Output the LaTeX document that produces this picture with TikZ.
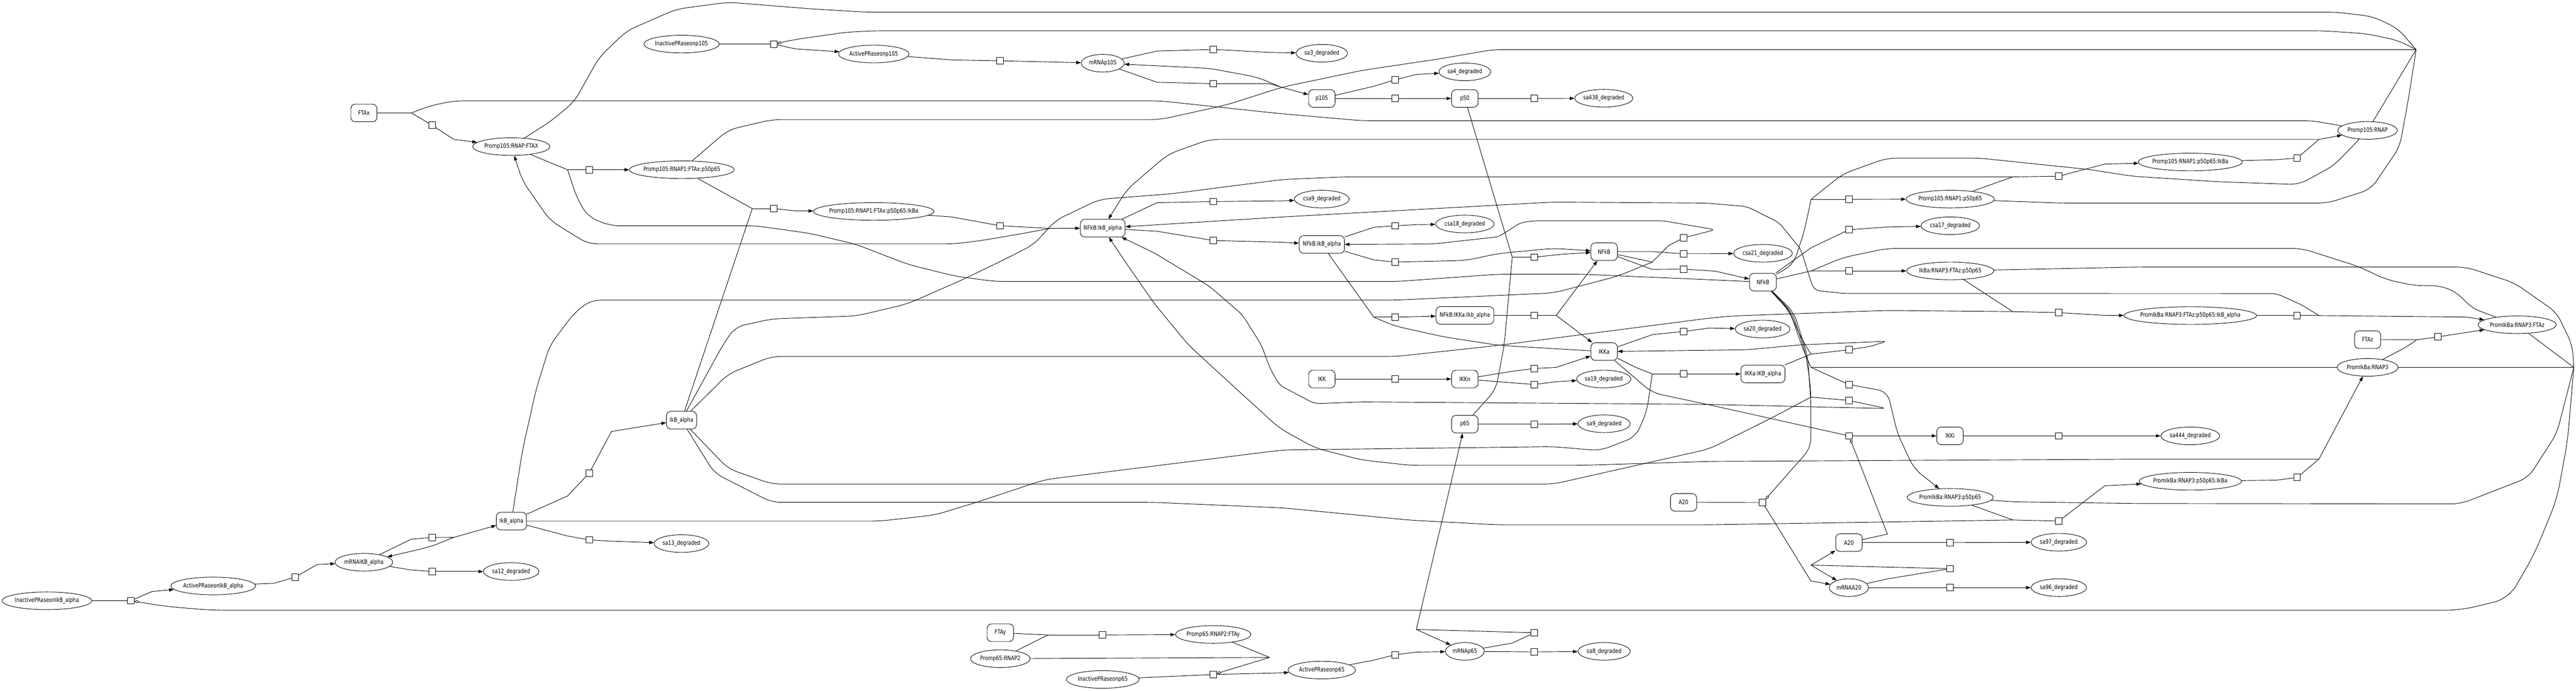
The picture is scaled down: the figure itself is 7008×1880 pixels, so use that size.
\documentclass[tikz,border=0pt]{standalone}
\usepackage{fontspec}
\setmainfont{DejaVu Sans}[FakeStretch=0.81]
\usetikzlibrary{arrows.meta,shapes.geometric}
\newcommand{\ztx}[1]{\makebox[0pt]{#1}}
\tikzset{
 ln/.style={line width=1.3pt},
 ar/.style={line width=1.3pt,-{Triangle[length=13pt,width=9pt]}},
 md/.style={line width=1.3pt,-{Diamond[open,length=13pt,width=8pt]}},
 el/.style={ellipse,draw,line width=1.3pt,minimum height=48pt,inner sep=0pt,minimum width=#1,fill=white},
 bx/.style={rectangle,rounded corners=12pt,draw,line width=1.3pt,minimum height=48pt,minimum width=#1,inner sep=0pt,fill=white},
 rx/.style={rectangle,draw,line width=1.3pt,minimum size=18pt,inner sep=0pt,fill=white},
 cv/.style={rounded corners=25pt},
}
\begin{document}
\begin{tikzpicture}[x=1pt,y=-1pt,font=\fontsize{16.5}{19}\selectfont]
\useasboundingbox[fill=white] (0,0) rectangle (7008,1880);
% ---------------- species ----------------
\node[bx=71] (FTAx) at (990,307.5) {FTAx};
\node[el=210] (P105RF) at (1391,399) {\ztx{Promp105:RNAP:FTAX}};
\node[el=205] (InPp105) at (1854,120) {\ztx{InactivePRaseonp105}};
\node[el=192] (AcPp105) at (2377,147) {\ztx{ActivePRaseonp105}};
\node[el=117] (mRNAp105) at (3000,172) {\ztx{mRNAp105}};
\node[el=140] (sa3) at (3596,145) {\ztx{sa3\_degraded}};
\node[el=141] (sa4) at (3985,195.5) {\ztx{sa4\_degraded}};
\node[bx=72] (p105) at (3596,268) {p105};
\node[bx=72] (p50) at (3985,268) {p50};
\node[el=158] (sa438) at (4363,267.4) {\ztx{sa438\_degraded}};
\node[el=285] (P105RFpp) at (1855,462) {\ztx{Promp105:RNAP1:FTAx:p50p65}};
\node[el=328] (P105RFppI) at (2377,575.5) {\ztx{Promp105:RNAP1:FTAx:p50p65:IkBa}};
\node[bx=122] (NIa1) at (3000,621) {NFkB:IkB\_alpha};
\node[el=149] (csa9) at (3596,542) {\ztx{csa9\_degraded}};
\node[el=159] (csa18) at (3985,609.7) {\ztx{csa18\_degraded}};
\node[bx=123] (NIa2) at (3596,665.5) {NFkB:IkB\_alpha};
\node[bx=72] (NFkB1) at (4364,685) {NFkB};
\node[bx=157] (NIkIa) at (3985,858.5) {NFkB:IKKa:Ikb\_alpha};
\node[bx=72] (IKKa) at (4364,957) {IKKa};
\node[bx=72] (IKK) at (3596,1031.7) {IKK};
\node[bx=72] (IKKn) at (3985,1031.7) {IKKn};
\node[el=148] (sa19) at (4363,1031.7) {\ztx{sa19\_degraded}};
\node[bx=72] (p65) at (3985,1154.6) {p65};
\node[el=142] (sa9) at (4364,1153.4) {\ztx{sa9\_degraded}};
\node[bx=71] (A20a) at (4580,1367.5) {A20};
\node[el=106] (mRNAp65) at (3985,1773) {\ztx{mRNAp65}};
\node[el=142] (sa8) at (4364,1773) {\ztx{sa8\_degraded}};
\node[el=184] (AcPp65) at (3596,1824) {\ztx{ActivePRaseonp65}};
\node[bx=72] (FTAy) at (2721.4,1722.4) {FTAy};
\node[el=162] (P65R) at (2721.4,1793) {\ztx{Promp65:RNAP2}};
\node[el=205] (P65RF) at (3300.5,1727) {\ztx{Promp65:RNAP2:FTAy}};
\node[el=198] (InPp65) at (3000,1849.5) {\ztx{InactivePRaseonp65}};
\node[el=160] (csa21) at (4796,689.5) {\ztx{csa21\_degraded}};
\node[bx=73] (NFkB2) at (4796,768) {NFkB};
\node[el=240] (P105Rpp) at (5305.6,542) {\ztx{Promp105:RNAP1:p50p65}};
\node[el=159] (csa17) at (5305.6,614.5) {\ztx{csa17\_degraded}};
\node[el=237] (IRFpp) at (5305.6,737.4) {\ztx{IkBa:RNAP3:FTAz:p50p65}};
\node[el=149] (sa20) at (4795,895.7) {\ztx{sa20\_degraded}};
\node[bx=120] (IKKaI) at (4796,1018) {IKKa:IKB\_alpha};
\node[bx=72] (IKKi) at (5305,1186.4) {IKKi};
\node[el=234] (PIRpp) at (5305.6,1354) {\ztx{PromIkBa:RNAP3:p50p65}};
\node[bx=72] (A20b) at (5030,1477) {A20};
\node[el=151] (sa97) at (5601,1476) {\ztx{sa97\_degraded}};
\node[el=107] (mRNAA20) at (5030,1599.5) {\ztx{mRNAA20}};
\node[el=151] (sa96) at (5601,1599.5) {\ztx{sa96\_degraded}};
\node[el=162] (P105R) at (6441,355) {\ztx{Promp105:RNAP}};
\node[el=283] (P105RppI) at (5958.7,441) {\ztx{Promp105:RNAP1:p50p65:IkBa}};
\node[el=361] (PIRFppI) at (5958.7,859) {\ztx{PromIkBa:RNAP3:FTAz:p50p65:IkB\_alpha}};
\node[el=213] (PIRF) at (6847.8,884) {\ztx{PromIkBa:RNAP3:FTAz}};
\node[bx=71] (FTAz) at (6441,924.5) {FTAz};
\node[el=166] (PIR) at (6441,1000) {\ztx{PromIkBa:RNAP3}};
\node[el=160] (sa444) at (5958.7,1186.4) {\ztx{sa444\_degraded}};
\node[el=278] (PIRppI) at (5958.7,1310) {\ztx{PromIkBa:RNAP3:p50p65:IkBa}};
\node[el=157] (mRNAIkB) at (990,1530.5) {\ztx{mRNAIKB\_alpha}};
\node[el=244] (InPIkB) at (127.6,1635.4) {\ztx{InactivePRaseonIkB\_alpha}};
\node[el=231] (AcPIkB) at (580,1595) {\ztx{ActivePRaseonIkB\_alpha}};
\node[bx=82] (IkBl) at (1391.3,1418.4) {IkB\_alpha};
\node[bx=82] (IkBu) at (1854,1143.8) {IkB\_alpha};
\node[el=151] (sa12) at (1390.6,1555.7) {\ztx{sa12\_degraded}};
\node[el=149] (sa13) at (1854,1479.6) {\ztx{sa13\_degraded}};
% ---------------- reactions ----------------
\foreach \n/\x/\y in {r1/1176/341,r2/1603/462,r3/2105/567.7,r4/2720.7/614.5,r5/2105/120,r6/2720.7/165.5,
 r7/3301/134.5,r8/3301/227.8,r9/3795.6/217,r10/3795.6/268,r11/4174/268,r12/4174/700,r13/3301/548.6,
 r14/3301/654.7,r15/3795.6/614.5,r16/3795.6/713.4,r17/3795.6/863.3,r18/4174/858.5,r19/4580/690.6,
 r20/4580/732.6,r21/4580/647.5,r22/4580/902.3,r23/3795.6/1031.7,r24/4174/1003,r25/4174/1046.7,
 r26/4174/1154.6,r27/4580/1018,r28/5030/1186.4,r29/5601/1186.4,r30/5030/952,r31/5030/1046.7,
 r32/5030/1090,r33/4795/1368,r34/5305/1548,r35/5305/1477,r36/5305/1599.5,r37/5601/1418.4,
 r38/6249/1299.7,r39/356/1635,r40/803.6/1570.7,r41/1176/1463,r42/1176/1555.7,r43/1603/1469.4,
 r44/1603/1287.7,r45/5601/479.6,r46/6249/430.5,r47/5030/542.6,r48/5030/625.3,r49/5030/737.4,
 r50/5601/851,r51/6249/859,r52/6632/917,r53/2999/1728.4,r54/3301/1836,r55/3795.6/1782.3,
 r56/4174/1722.4,r57/4174/1774.5}
 {\node[rx] (\n) at (\x,\y) {};}
% ---------------- junctions ----------------
\coordinate (j1) at (1119,307.5);
\coordinate (j2) at (6308.5,379.5);
\coordinate (j3) at (1544,462);
\coordinate (j4) at (2857,621.7);
\coordinate (j5) at (2046.5,567.7);
\coordinate (j6) at (3482,236);
\coordinate (j7) at (5475.7,481.4);
\coordinate (j8) at (6308.5,859);
\coordinate (j10) at (4926.5,1081);
\coordinate (j11) at (4114,700);
\coordinate (j13) at (4495,713.4);
\coordinate (j14) at (3737.4,863.3);
\coordinate (j15) at (5475.7,848.3);
\coordinate (j16) at (4926.5,1000);
\coordinate (j17) at (4233.6,858.5);
\coordinate (j18) at (4926.5,964);
\coordinate (j19) at (4495,1018);
\coordinate (j20) at (6308.5,1250);
\coordinate (j21) at (5476,1415.4);
\coordinate (j22) at (4927,542.6);
\coordinate (j23) at (4927,674.5);
\coordinate (j24) at (4927,737.4);
\coordinate (j25) at (6574,925);
\coordinate (j26) at (4926.5,1538.3);
\coordinate (j27) at (3853,1713.4);
\coordinate (j28) at (2851,1728.4);
\coordinate (j29) at (1234.6,1462.8);
\coordinate (jtop) at (6573,135);
\coordinate (jikba) at (7002,1000);
\coordinate (jp65) at (3454,1789.5);
% ---------------- edges ----------------
\draw[ln] (FTAx) -- (j1);
\draw[ln,cv] (P105R) -- (6290,328.5) -- (3704,328.5) -- (3480,309) -- (3156,274.6) -- (1235,274.6) -- (1170,288) -- (j1);
\draw[ln] (j1) -- (r1);
\draw[ar] (r1) -- (1234.6,379.5) -- (P105RF);
\draw[ln] (P105RF) -- (j3);
\draw[ln] (j3) -- (r2);
\draw[ar] (r2) -- (P105RFpp);
\draw[ln,cv] (NFkB2) -- (4650,761.4) -- (4301,746.4) -- (4077,746.4) -- (3801,766.2) -- (2708,766.2) -- (2600,752) -- (2469,719.4) -- (2330,665.5) -- (2204.6,635.5) -- (2055,614.5) -- (1660,614.5) -- (1600,590) -- (1570,540) -- (j3);
\draw[ln] (P105RFpp) -- (j5);
\draw[ln] (IkBu) -- (j5);
\draw[ln] (j5) -- (r3);
\draw[ar] (r3) -- (2163.6,574) -- (P105RFppI);
\draw[ln] (P105RFppI) -- (2589,590.5) -- (r4);
\draw[ln] (r4) -- (j4);
\draw[ar] (j4) -- (NIa1);
\draw[ar,cv] (j4) -- (2782.6,635.5) -- (2678,653.5) -- (2596,664) -- (1600,664) -- (1496,599.5) -- (1421,491.6) -- (P105RF);
\draw[ln,cv] (P105RF) -- (1503,326.7) -- (1563,275.8) -- (1630,156) -- (1705,84) -- (1840,25) -- (1981,6) -- (2205,24) -- (2355,33) -- (6355,33) -- (6455,45) -- (6524,78) -- (jtop);
\draw[ln,cv] (P105RFpp) -- (1981,353.7) -- (2100,325.5) -- (3156,325.5) -- (3335,286) -- (3490,236.8) -- (3704,191.8) -- (3913,160.7) -- (4062,135) -- (jtop);
\draw[ln] (P105R) -- (jtop);
\draw[ln,cv] (P105Rpp) -- (5610,552.8) -- (6331.6,552.8) -- (6450,515) -- (6528,400) -- (6552,270) -- (jtop);
\draw[md,cv] (jtop) -- (6524,110) -- (6439,92) -- (6324,84) -- (2372,84) -- (2300,88) -- (2160,108) -- (r5);
\draw[ln] (InPp105) -- (r5);
\draw[ar] (r5) -- (2163.6,133) -- (AcPp105);
\draw[ln] (AcPp105) -- (2589,163) -- (r6);
\draw[ar] (r6) -- (mRNAp105);
\draw[ln] (mRNAp105) -- (3148,139) -- (r7);
\draw[ar] (r7) -- (3454,142.7) -- (sa3);
\draw[ln] (mRNAp105) -- (3148,224) -- (r8);
\draw[ln] (r8) -- (3454,227.8) -- (j6);
\draw[ar] (j6) -- (p105);
\draw[ar,cv] (j6) -- (3420,210) -- (3290,186) -- (mRNAp105);
\draw[ln] (p105) -- (3737,235) -- (r9);
\draw[ar] (r9) -- (3853,202.6) -- (sa4);
\draw[ln] (p105) -- (r10);
\draw[ar] (r10) -- (p50);
\draw[ln] (p50) -- (r11);
\draw[ar] (r11) -- (sa438);
\draw[ln] (p50) -- (j11);
\draw[ln,cv] (p65) -- (4069.5,1060) -- (4092,940) -- (j11);
\draw[ln] (j11) -- (r12);
\draw[ar] (r12) -- (4250,692) -- (NFkB1);
\draw[ln] (NIa1) -- (3148,551.6) -- (r13);
\draw[ar] (r13) -- (3490,546.8) -- (csa9);
\draw[ln] (NIa1) -- (3148,629.5) -- (r14);
\draw[ar] (r14) -- (3490,659.5) -- (NIa2);
\draw[ln] (NIa2) -- (3737.4,618.7) -- (r15);
\draw[ar] (r15) -- (3853,611.5) -- (csa18);
\draw[ln] (NIa2) -- (3737.4,707.4) -- (r16);
\draw[ar,cv] (r16) -- (3987,709) -- (4077,690) -- (4226,676) -- (NFkB1);
\draw[ln] (NIa2) -- (j14);
\draw[ln,cv] (IKKa) -- (4226,949) -- (4077,940) -- (3928,917) -- (3793,887) -- (j14);
\draw[ln] (j14) -- (r17);
\draw[ar] (r17) -- (NIkIa);
\draw[ln] (NIkIa) -- (r18) -- (j17);
\draw[ar] (j17) -- (NFkB1);
\draw[ar] (j17) -- (IKKa);
\draw[ln] (NFkB1) -- (4495,685) -- (r19);
\draw[ar] (r19) -- (4650,690.6) -- (csa21);
\draw[ln] (NFkB1) -- (4495,733.3) -- (r20);
\draw[ar] (r20) -- (4666,738) -- (NFkB2);
\draw[ln] (NFkB1) -- (j13);
\draw[ln,cv] (IkBl) -- (1421,1227.8) -- (1458.5,1060) -- (1495.8,940) -- (1563,851) -- (1607.7,817) -- (3793,817) -- (4226,797.4) -- (4400,752) -- (j13);
\draw[ln] (j13) -- (4540,668) -- (r21);
\draw[ar,rounded corners=12pt] (r21) -- (4666,625.3) -- (4524.6,601) -- (4174,601) -- (4137,606) -- (4077,644.5) -- (3900,664) -- (NIa2);
\draw[ln] (IKKa) -- (4495,911) -- (r22);
\draw[ar] (r22) -- (4650,893) -- (sa20);
\draw[ln] (IKK) -- (r23);
\draw[ar] (r23) -- (IKKn);
\draw[ln] (IKKn) -- (4114,1010.7) -- (r24);
\draw[ar] (r24) -- (4233.6,1000) -- (IKKa);
\draw[ln] (IKKn) -- (4114,1042) -- (r25);
\draw[ar] (r25) -- (4233.6,1039) -- (sa19);
\draw[ln] (p65) -- (r26);
\draw[ar] (r26) -- (sa9);
\draw[ln] (IKKa) -- (4450,1000) -- (j19);
\draw[ln,cv] (IkBl) -- (2394,1418.4) -- (2544,1401.6) -- (2656,1367.5) -- (2842,1305.7) -- (3490,1224.8) -- (4226,1215.8) -- (4353,1226.6) -- (4450,1188.8) -- (4480,1120) -- (j19);
\draw[ln] (j19) -- (r27);
\draw[ar] (r27) -- (IKKaI);
\draw[ln,cv] (IKKa) -- (4495,1069) -- (4650,1102) -- (r28);
\draw[ar] (r28) -- (IKKi);
\draw[md] (A20b) -- (5134.7,1453.8) -- (r28);
\draw[ln] (IKKi) -- (r29);
\draw[ar] (r29) -- (sa444);
\draw[ln,cv] (NFkB2) -- (4864,839) -- (4900,920) -- (j18);
\draw[ln] (IKKaI) -- (j18);
\draw[ln] (j18) -- (r30);
\draw[ar,rounded corners=10pt] (r30) -- (5088,943) -- (5132.5,929) -- (4900,938.6) -- (4752,952) -- (IKKa);
\draw[ln,cv] (NFkB2) -- (4870,850) -- (4905,950) -- (j16);
\draw[ln] (PIR) -- (j16);
\draw[ln] (j16) -- (r31);
\draw[ar,cv] (r31) -- (5134.7,1066) -- (5162,1180) -- (5207,1275.7) -- (PIRpp);
\draw[ln,cv] (NFkB2) -- (4875,850) -- (4912,960) -- (4924,1040) -- (j10);
\draw[ln,cv] (IkBu) -- (1981,1275.7) -- (2100,1317.7) -- (4226,1317.7) -- (4650,1222) -- (4819,1138) -- (j10);
\draw[ln] (j10) -- (r32);
\draw[ar,rounded corners=15pt] (r32) -- (5132.5,1112) -- (4640,1100.7) -- (3704,1094) -- (3577,1099) -- (3480,1048) -- (3454,1000) -- (3432,940) -- (3380,857) -- (3290,779) -- (3141,689) -- (NIa1);
\draw[md,cv] (NFkB2) -- (4880,850) -- (4918,970) -- (4926.5,1100) -- (4926.5,1218.8) -- (r33);
\draw[ln] (A20a) -- (r33);
\draw[ar] (r33) -- (4926.5,1581.5) -- (mRNAA20);
\draw[ln] (mRNAA20) -- (5136,1575.5) -- (r34);
\draw[ln] (r34) -- (j26);
\draw[ar] (j26) -- (A20b);
\draw[ar] (j26) -- (mRNAA20);
\draw[ln] (A20b) -- (r35);
\draw[ar] (r35) -- (sa97);
\draw[ln] (mRNAA20) -- (r36);
\draw[ar] (r36) -- (sa96);
\draw[ln,cv] (IkBu) -- (1943.5,1287.7) -- (2100,1367.5) -- (3140,1367.5) -- (3490,1382.5) -- (3838,1416) -- (4077,1428.6) -- (4640,1428.6) -- (j21);
\draw[ln] (PIRpp) -- (j21) -- (r37);
\draw[ar] (r37) -- (5725.6,1322.5) -- (PIRppI);
\draw[ln,cv] (PIRpp) -- (5480,1366) -- (5810,1370.5) -- (6693.7,1371.7) -- (6878.6,1299.7) -- (6955.6,1179.8) -- (jikba);
\draw[ln] (PIRppI) -- (6193,1307) -- (r38);
\draw[ln] (r38) -- (j20);
\draw[ar] (j20) -- (PIR);
\draw[ar,cv] (j20) -- (5800,1250) -- (4650,1256) -- (4301,1266.7) -- (3838,1266.7) -- (3704,1252) -- (3577,1219) -- (3480,1165) -- (3365,1060) -- (3234,940) -- (3141,827.3) -- (3066,719.4) -- (NIa1);
\draw[ln] (PIR) -- (jikba);
\draw[ln] (PIRF) -- (jikba);
\draw[ln,cv] (IRFpp) -- (5810,727) -- (6709,727) -- (6840,770) -- (6955.6,851) -- (6998,940) -- (jikba);
\draw[md,rounded corners=40pt] (jikba) -- (6985,1200) -- (6955.6,1359.7) -- (6894,1509.5) -- (6824.7,1629.4) -- (6693.7,1661) -- (574.5,1661) -- (447.7,1650.4) -- (r39);
\draw[ln] (InPIkB) -- (r39);
\draw[ar] (r39) -- (414,1610) -- (AcPIkB);
\draw[ln] (AcPIkB) -- (746,1587.5) -- (r40);
\draw[ar] (r40) -- (863,1536.5) -- (mRNAIkB);
\draw[ln] (mRNAIkB) -- (1119,1467.6) -- (r41);
\draw[ln] (r41) -- (j29);
\draw[ar] (j29) -- (IkBl);
\draw[ar,cv] (j29) -- (1170,1488.6) -- (mRNAIkB);
\draw[ln] (mRNAIkB) -- (1119,1551.5) -- (r42);
\draw[ar] (r42) -- (1235,1555.7) -- (sa12);
\draw[ln] (IkBl) -- (1544,1459) -- (r43);
\draw[ar] (r43) -- (1661,1473) -- (sa13);
\draw[ln] (IkBl) -- (1544,1350) -- (r44);
\draw[ar] (r44) -- (1663.6,1174.4) -- (IkBu);
\draw[ln,cv] (IkBu) -- (1966,940) -- (2000,890) -- (2100,868) -- (2330,860) -- (2469,827) -- (2618.5,761.4) -- (2730,707.4) -- (2812.5,665.5) -- (2872,599.5) -- (2991.5,542.6) -- (3185.5,527.6) -- (3490,488.6) -- (3659,481.4) -- (j7);
\draw[ln] (P105Rpp) -- (j7) -- (r45);
\draw[ar] (r45) -- (5725.6,446.6) -- (P105RppI);
\draw[ln] (P105RppI) -- (6193,434.6) -- (r46) -- (j2);
\draw[ar] (j2) -- (P105R);
\draw[ar,cv] (j2) -- (3290,379.5) -- (3178,419.7) -- (3066,515.6) -- (NIa1);
\draw[ln,cv] (P105R) -- (6350,450) -- (6254.5,502.4) -- (6031,494.5) -- (5800,479.6) -- (5685,461.6) -- (5386,430.5) -- (5132.5,430.5) -- (5013,473.6) -- (j22);
\draw[ln,cv] (NFkB2) -- (4879,719.4) -- (4908.6,629.5) -- (j22);
\draw[ln] (j22) -- (r47);
\draw[ar] (r47) -- (P105Rpp);
\draw[ln] (NFkB2) -- (j23) -- (r48);
\draw[ar] (r48) -- (5132.5,618) -- (csa17);
\draw[ln] (NFkB2) -- (j24) -- (r49);
\draw[ar] (r49) -- (IRFpp);
\draw[ln,cv] (PIRF) -- (6724.5,839) -- (6686,797.4) -- (6639.8,777.6) -- (6570,777.6) -- (6493,761.4) -- (6416,725.4) -- (6262,676.3) -- (5132.5,676.3) -- (5013,701.4) -- (j24);
\draw[ln] (IRFpp) -- (j15);
\draw[ln,cv] (IkBu) -- (1981,1018) -- (2100,970) -- (3801,970) -- (4077,940) -- (4650,866) -- (4715,860) -- (5132.5,845) -- (j15);
\draw[ln] (j15) -- (r50);
\draw[ar] (r50) -- (5725.6,858.5) -- (PIRFppI);
\draw[ln] (PIRFppI) -- (r51) -- (j8);
\draw[ar] (j8) -- (6709,863) -- (PIRF);
\draw[ar,rounded corners=15pt] (j8) -- (6262,830) -- (6193,799) -- (5013,798.6) -- (4935,790) -- (4918,740) -- (4900,680) -- (4840,606) -- (4752,562) -- (4640,552.8) -- (4226,550) -- (3490,590.5) -- (NIa1);
\draw[ln] (FTAz) -- (j25);
\draw[ln,cv] (PIR) -- (6555,940) -- (j25);
\draw[ln] (j25) -- (r52);
\draw[ar] (r52) -- (PIRF);
\draw[ln] (FTAy) -- (j28);
\draw[ln] (P65R) -- (j28);
\draw[ln] (j28) -- (r53);
\draw[ar] (r53) -- (P65RF);
\draw[ln] (P65R) -- (jp65);
\draw[ln] (P65RF) -- (jp65);
\draw[md] (jp65) -- (r54);
\draw[ln] (InPp65) -- (r54);
\draw[ar] (r54) -- (3490,1831.5) -- (AcPp65);
\draw[ln] (AcPp65) -- (3737,1797) -- (r55);
\draw[ar] (r55) -- (3853,1775) -- (mRNAp65);
\draw[ln] (mRNAp65) -- (4114,1750.6) -- (r56) -- (j27);
\draw[ar] (j27) -- (p65);
\draw[ar] (j27) -- (mRNAp65);
\draw[ln] (mRNAp65) -- (r57);
\draw[ar] (r57) -- (sa8);
\end{tikzpicture}
\end{document}
